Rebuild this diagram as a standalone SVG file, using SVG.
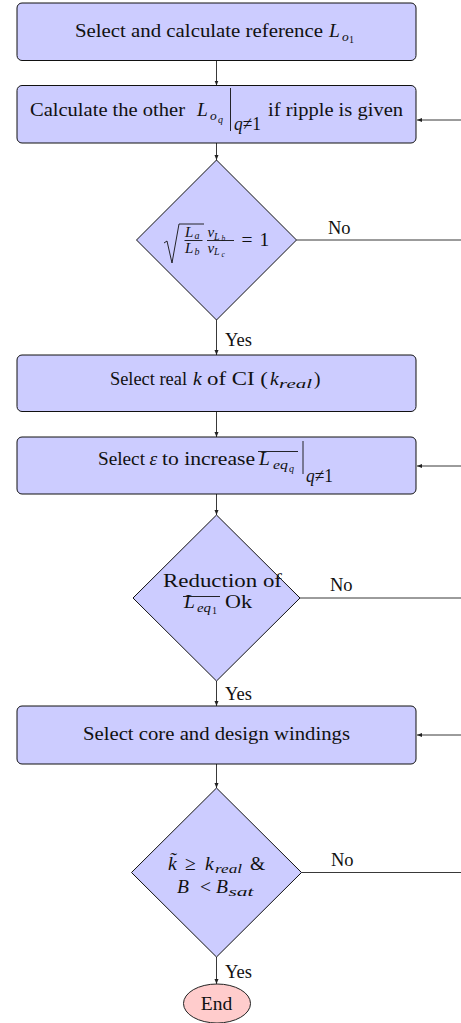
<svg xmlns="http://www.w3.org/2000/svg" width="461" height="1023" viewBox="0 0 461 1023">
<style>
text{font-family:"Liberation Serif","Times New Roman",serif;font-size:19.5px;fill:#111}
.mi{font-style:italic}
.s1{font-size:13.5px}
.s2{font-size:10px}
.s3{font-size:7.5px}
.f1{font-size:15px}
.box{fill:#ccccff;stroke:#111;stroke-width:1}
.end{fill:#ffcccc;stroke:#222;stroke-width:1}
.ln{stroke:#111;stroke-width:0.9;fill:none}
.cn{stroke:#222;stroke-width:0.9;fill:none;marker-end:url(#arr)}
.cnp{stroke:#222;stroke-width:0.9;fill:none}
.lbl{font-size:18.5px}
</style>
<defs>
<marker id="arr" viewBox="0 0 10 10" refX="10" refY="5" markerWidth="5" markerHeight="5" orient="auto" markerUnits="userSpaceOnUse">
<path d="M0,1 L10,5 L0,9 z" fill="#222"/>
</marker>
</defs>

<g id="connectors">
<path class="cn" d="M216.5,60.5 V85.5"/>
<path class="cn" d="M216.5,143 V160"/>
<path class="cn" d="M216.5,320 V355"/>
<path class="cn" d="M216.5,411.5 V437"/>
<path class="cn" d="M216.5,494 V515"/>
<path class="cn" d="M216.5,681 V706"/>
<path class="cn" d="M216.5,764 V788"/>
<path class="cn" d="M216.5,957 V984"/>
<path class="cnp" d="M296.5,240 H461"/>
<path class="cnp" d="M300,598 H461"/>
<path class="cnp" d="M301.5,872.5 H461"/>
<path class="cn" d="M461,120 H417"/>
<path class="cn" d="M461,466 H417"/>
<path class="cn" d="M461,735 H417"/>
<text class="lbl" x="328" y="234">No</text>
<text class="lbl" x="330" y="591">No</text>
<text class="lbl" x="331" y="866">No</text>
<text class="lbl" x="225" y="346">Yes</text>
<text class="lbl" x="225" y="700">Yes</text>
<text class="lbl" x="225" y="978">Yes</text>
</g>

<g id="box1">
<rect class="box" x="17" y="3" width="399" height="57.5" rx="5"/>
<text x="75" y="37" textLength="248" lengthAdjust="spacingAndGlyphs">Select and calculate reference</text>
<text class="mi" x="329" y="37">L</text>
<text class="mi s1" x="342" y="41">o</text>
<text class="s2" x="349" y="43">1</text>
</g>

<g id="box2">
<rect class="box" x="17" y="85.5" width="399" height="57.5" rx="5"/>
<text x="30" y="116" textLength="155" lengthAdjust="spacingAndGlyphs">Calculate the other</text>
<text class="mi" x="197" y="116">L</text>
<text class="mi s1" x="210" y="120">o</text>
<text class="mi s2" x="218" y="123">q</text>
<line class="ln" x1="230.5" y1="88" x2="230.5" y2="131"/>
<text x="234" y="130" font-size="14" textLength="27" lengthAdjust="spacingAndGlyphs"><tspan font-style="italic">q</tspan>≠1</text>
<text x="268" y="116" textLength="135" lengthAdjust="spacingAndGlyphs">if ripple is given</text>
</g>

<g id="decision1">
<polygon class="box" points="216.5,160 296.5,240 216.5,320 136.5,240"/>
<path class="ln" d="M164,243 L167,241 L172,263 L179,224 H204"/>
<text class="mi f1" x="185" y="237">L</text>
<text class="mi s2" x="194.5" y="239">a</text>
<line class="ln" x1="184.5" y1="240.5" x2="202.5" y2="240.5"/>
<text class="mi f1" x="185" y="252.5">L</text>
<text class="mi s2" x="194.5" y="254.5">b</text>
<text class="mi f1" x="207.5" y="237">v</text>
<text class="mi s2" x="214" y="239.5">L</text>
<text class="mi s3" x="221.5" y="241">b</text>
<line class="ln" x1="207" y1="240.5" x2="234" y2="240.5"/>
<text class="mi f1" x="207.5" y="252.5">v</text>
<text class="mi s2" x="214" y="255">L</text>
<text class="mi s3" x="221.5" y="256.5">c</text>
<text x="241.5" y="246">=</text>
<text x="259.5" y="246">1</text>
</g>

<g id="box3">
<rect class="box" x="17" y="355" width="399" height="56.5" rx="5"/>
<text x="110" y="385" textLength="77" lengthAdjust="spacingAndGlyphs">Select real</text>
<text class="mi" x="193" y="385">k</text>
<text x="207" y="385" textLength="61" lengthAdjust="spacingAndGlyphs">of CI (</text>
<text class="mi" x="270" y="385">k</text>
<text class="mi s1" x="279" y="388" textLength="33" lengthAdjust="spacingAndGlyphs">real</text>
<text x="314" y="385">)</text>
</g>

<g id="box4">
<rect class="box" x="17" y="437" width="399" height="57" rx="5"/>
<text x="98" y="465" textLength="47" lengthAdjust="spacingAndGlyphs">Select</text>
<text class="mi" x="149.5" y="465">ε</text>
<text x="162" y="465" textLength="93" lengthAdjust="spacingAndGlyphs">to increase</text>
<text class="mi" x="259" y="465">L</text>
<text class="mi s1" x="273" y="469" textLength="15" lengthAdjust="spacingAndGlyphs">eq</text>
<text class="mi s2" x="289" y="472">q</text>
<line class="ln" x1="258" y1="451.5" x2="298" y2="451.5"/>
<line class="ln" x1="303" y1="441" x2="303" y2="474"/>
<text x="306" y="482" font-size="14" textLength="27" lengthAdjust="spacingAndGlyphs"><tspan font-style="italic">q</tspan>≠1</text>
</g>

<g id="decision2">
<polygon class="box" points="216.5,515 300,598 216.5,681 133,598"/>
<text x="163" y="587" textLength="119" lengthAdjust="spacingAndGlyphs">Reduction of</text>
<text class="mi" x="184" y="608">L</text>
<text class="mi s1" x="197" y="612" textLength="14" lengthAdjust="spacingAndGlyphs">eq</text>
<text class="s2" x="212" y="614">1</text>
<line class="ln" x1="183" y1="596.5" x2="220" y2="596.5"/>
<text x="225" y="608" textLength="27" lengthAdjust="spacingAndGlyphs">Ok</text>
</g>

<g id="box5">
<rect class="box" x="17" y="706" width="399" height="58" rx="5"/>
<text x="83" y="740" textLength="267" lengthAdjust="spacingAndGlyphs">Select core and design windings</text>
</g>

<g id="decision3">
<polygon class="box" points="216.5,788 301.5,872.5 216.5,957 131.5,872.5"/>
<text class="mi" x="168" y="870">k&#771;</text>
<text x="185" y="870">≥</text>
<text class="mi" x="205" y="870">k</text>
<text class="mi s1" x="215" y="873" textLength="27" lengthAdjust="spacingAndGlyphs">real</text>
<text x="250" y="870">&amp;</text>
<text class="mi" x="177" y="893">B</text>
<text x="200" y="893">&lt;</text>
<text class="mi" x="216" y="893">B</text>
<text class="mi s1" x="228.5" y="896" textLength="25" lengthAdjust="spacingAndGlyphs">sat</text>
</g>

<g id="end">
<ellipse class="end" cx="217" cy="1003.5" rx="33.5" ry="19.5"/>
<text x="216.5" y="1010" text-anchor="middle">End</text>
</g>
</svg>
